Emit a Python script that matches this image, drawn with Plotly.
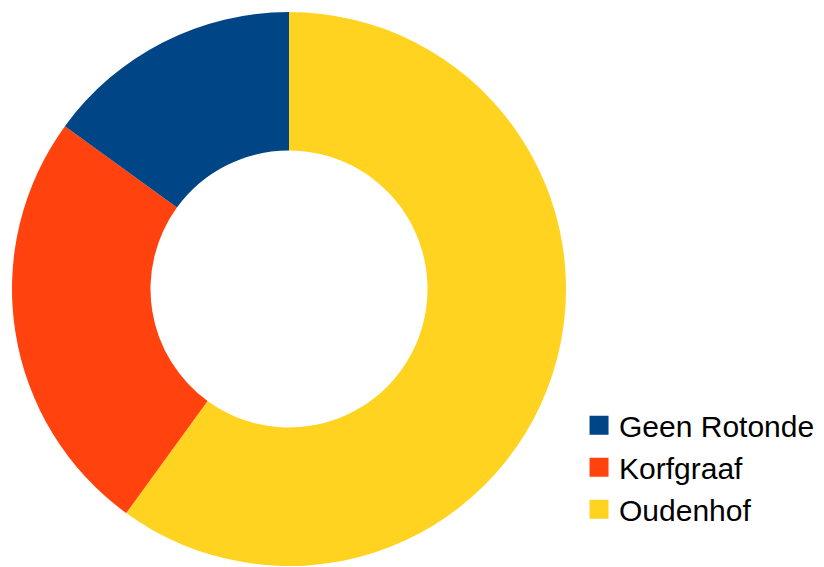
import plotly.graph_objects as go

labels = ["Geen Rotonde", "Korfgraaf", "Oudenhof"]
values = [15, 25, 60]
colors = ["#004586", "#ff420e", "#ffd320"]

# draw clockwise from 12 o'clock starting with Oudenhof
order = [2, 1, 0]

fig = go.Figure(go.Pie(
    labels=[labels[i] for i in order],
    values=[values[i] for i in order],
    hole=0.5,
    sort=False,
    direction="clockwise",
    rotation=0,
    textinfo="none",
    hoverinfo="label+percent",
    showlegend=False,
    marker=dict(colors=[colors[i] for i in order], line=dict(width=0)),
    domain=dict(x=[4/824, 558/824], y=[1-558/567, 1-4/567]),
))

# legend entries with larger square swatches
for lab, col in zip(labels, colors):
    fig.add_trace(go.Scatter(
        x=[None], y=[None], mode="markers", name=lab,
        marker=dict(symbol="square", size=16, color=col,
                    line=dict(width=3, color=col)),
        hoverinfo="skip",
    ))

fig.update_layout(
    width=824, height=567,
    margin=dict(l=0, r=0, t=0, b=0),
    paper_bgcolor="white",
    plot_bgcolor="white",
    font=dict(family="Liberation Sans, Arial, sans-serif", size=30, color="#000000"),
    showlegend=True,
    xaxis=dict(visible=False),
    yaxis=dict(visible=False),
    legend=dict(
        x=0.693, y=0.310, xanchor="left", yanchor="top",
        bgcolor="rgba(0,0,0,0)",
        traceorder="normal",
        itemsizing="trace",
        font=dict(size=30),
    ),
)

fig.write_html("out.html")
